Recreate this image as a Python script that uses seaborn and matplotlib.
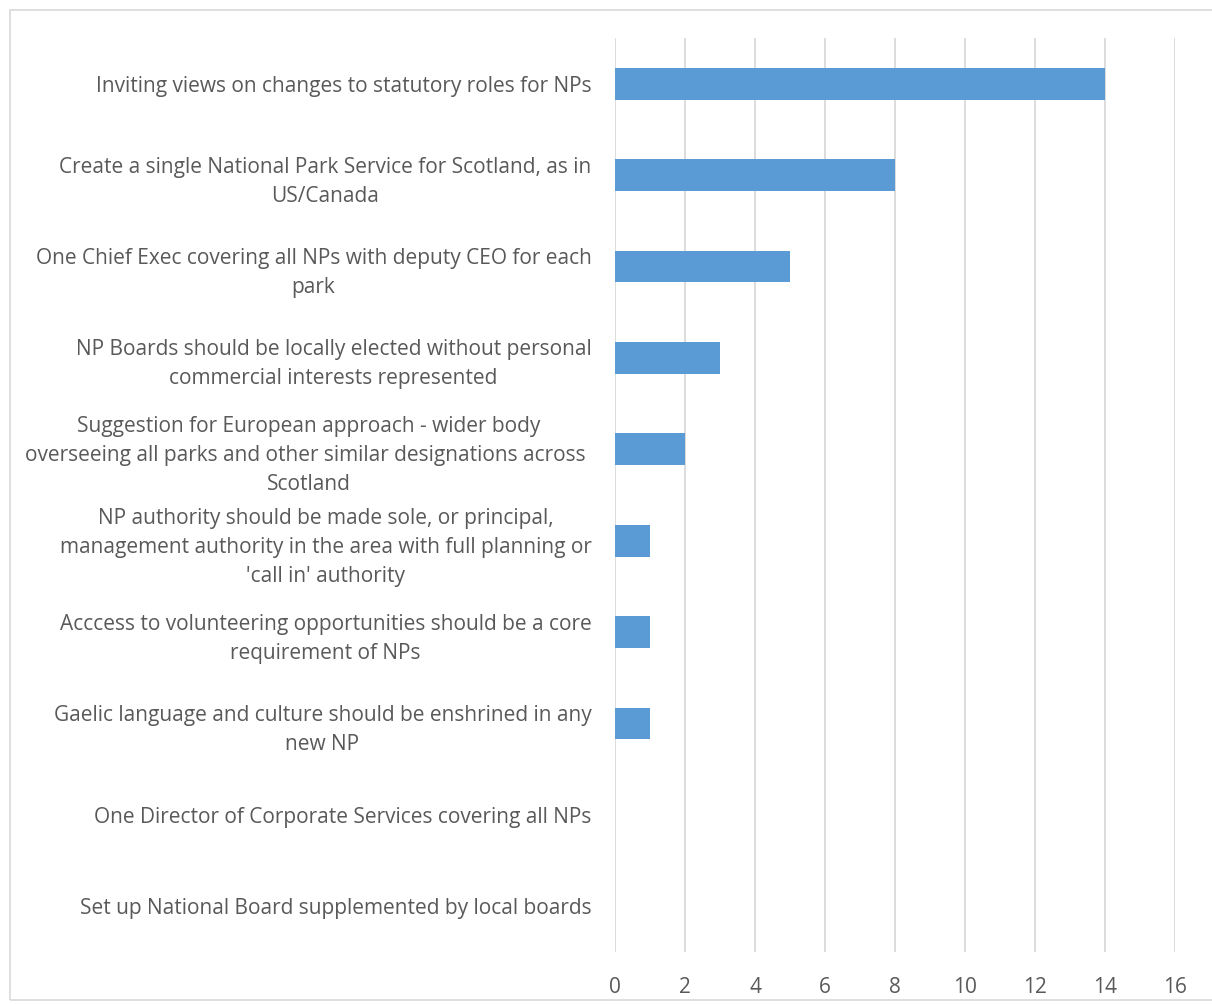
import matplotlib
matplotlib.use("Agg")
import matplotlib.pyplot as plt
import seaborn as sns
import pandas as pd
from matplotlib.patches import Rectangle

categories = [
    "Inviting views on changes to statutory roles for NPs",
    "Create a single National Park Service for Scotland, as in\nUS/Canada",
    "One Chief Exec covering all NPs with deputy CEO for each\npark",
    "NP Boards should be locally elected without personal\ncommercial interests represented",
    "Suggestion for European approach - wider body\noverseeing all parks and other similar designations across \nScotland",
    "NP authority should be made sole, or principal,\nmanagement authority in the area with full planning or\n'call in' authority",
    "Acccess to volunteering opportunities should be a core\nrequirement of NPs",
    "Gaelic language and culture should be enshrined in any\nnew NP",
    "One Director of Corporate Services covering all NPs",
    "Set up National Board supplemented by local boards",
]
values = [14, 8, 5, 3, 2, 1, 1, 1, 0, 0]
xticks = [0, 2, 4, 6, 8, 10, 12, 14, 16]

df = pd.DataFrame({"category": categories, "value": values})

sns.set_style("white")
plt.rcParams['font.family'] = ['Open Sans', 'DejaVu Sans']

fig = plt.figure(figsize=(12.12, 10.05), dpi=100)
ax = fig.add_axes([615/1212, 1-952/1005, (1175-615)/1212, (952-38)/1005])

sns.barplot(data=df, x="value", y="category", orient="h", color="#5B9BD5",
            saturation=1, width=0.35, linewidth=0, ax=ax, zorder=3)

ax.set_xlim(0, 16)
ax.set_xticks(xticks)
ax.set_xticklabels([str(t) for t in xticks])
ax.grid(axis="x", color="#D9D9D9", linewidth=1.3, zorder=0)
ax.set_axisbelow(True)
for s in ax.spines.values():
    s.set_visible(False)
ax.set_xlabel("")
ax.set_ylabel("")
ax.tick_params(axis="both", length=0, colors="#595959", labelsize=15)
ax.tick_params(axis="y", pad=17)
ax.tick_params(axis="x", pad=18)
for lab in ax.get_yticklabels():
    lab.set_multialignment("center")
    lab.set_linespacing(1.5)
    lab.set_color("#595959")

fig.patches.append(Rectangle((10/1212, 1-1000/1005), 1.2, 990/1005,
                             transform=fig.transFigure, fill=False,
                             edgecolor="#D9D9D9", linewidth=1.2))

fig.savefig("out.png", dpi=100)
